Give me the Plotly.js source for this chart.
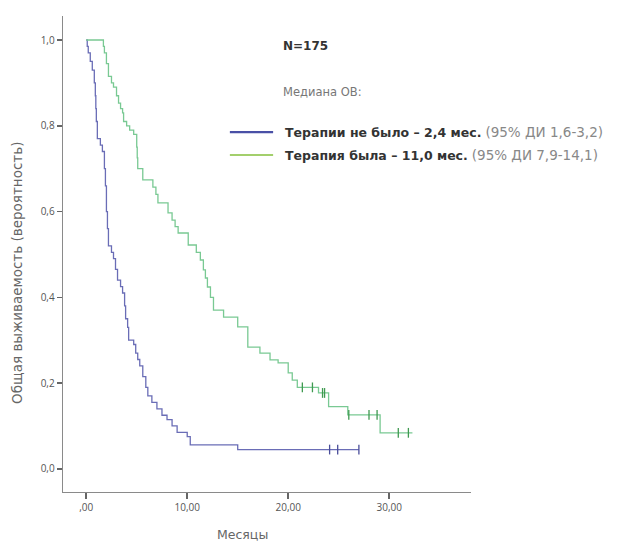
<!DOCTYPE html>
<html>
<head>
<meta charset="utf-8">
<script src="https://cdn.plot.ly/plotly-3.0.1.min.js"></script>
<style>html,body{margin:0;padding:0;background:#fff;}#chart{width:620px;height:542px;}</style>
</head>
<body>
<div id="chart"></div>
<script>
// ---- data (Kaplan–Meier, months vs survival probability) ----
const noTherapyMonths = [0, 0.1, 0.2, 0.4, 0.6, 0.8, 0.9, 0.95, 1.0, 1.1, 1.4, 1.6, 1.8, 1.9, 2.0, 2.1, 2.2, 2.5, 2.7, 2.9, 3.1, 3.4, 3.6, 3.8, 3.9, 4.1, 4.2, 4.7, 4.9, 5.1, 5.3, 5.6, 5.9, 6.1, 6.5, 7.0, 7.5, 8.0, 8.5, 9.0, 10.0, 10.3, 15.0, 27.0];
const noTherapySurv   = [1.0, 0.985, 0.97, 0.95, 0.93, 0.90, 0.87, 0.84, 0.81, 0.77, 0.755, 0.74, 0.70, 0.66, 0.60, 0.56, 0.52, 0.505, 0.49, 0.465, 0.44, 0.425, 0.41, 0.38, 0.35, 0.33, 0.30, 0.29, 0.27, 0.255, 0.24, 0.215, 0.19, 0.17, 0.155, 0.14, 0.125, 0.115, 0.10, 0.085, 0.075, 0.056, 0.045, 0.045];
const noTherapyCensMonths = [24.1, 24.9, 27.0];
const noTherapyCensSurv   = [0.045, 0.045, 0.045];

const therapyMonths = [0, 1.7, 1.8, 2.0, 2.2, 2.5, 2.7, 3.0, 3.2, 3.4, 3.6, 3.7, 4.0, 4.3, 4.7, 5.0, 5.05, 5.1, 5.6, 6.6, 6.9, 7.1, 8.1, 8.5, 8.8, 9.1, 10.1, 10.9, 11.3, 11.6, 11.8, 12.0, 12.3, 12.6, 13.6, 15.0, 16.0, 17.2, 18.2, 19.0, 20.0, 20.4, 20.9, 23.0, 24.0, 25.9, 29.1, 32.3];
const therapySurv   = [1.0, 0.985, 0.97, 0.945, 0.915, 0.90, 0.89, 0.87, 0.853, 0.84, 0.83, 0.81, 0.80, 0.79, 0.78, 0.75, 0.725, 0.70, 0.674, 0.657, 0.64, 0.62, 0.597, 0.58, 0.565, 0.55, 0.522, 0.505, 0.487, 0.464, 0.445, 0.424, 0.40, 0.37, 0.354, 0.331, 0.284, 0.27, 0.254, 0.247, 0.224, 0.207, 0.19, 0.177, 0.145, 0.126, 0.084, 0.084];
const therapyCensMonths = [21.4, 22.4, 23.4, 23.6, 26.0, 28.0, 28.8, 30.9, 31.9];
const therapyCensSurv   = [0.19, 0.19, 0.177, 0.177, 0.126, 0.126, 0.126, 0.084, 0.084];

const yTickVals   = [0, 0.2, 0.4, 0.6, 0.8, 1.0];
const yTickLabels = ["0,0", "0,2", "0,4", "0,6", "0,8", "1,0"];
const xTickVals   = [0, 10, 20, 30];
const xTickLabels = [",00", "10,00", "20,00", "30,00"];

const seriesNames = ["Терапии не было", "Терапия была"];
const legendBold  = ["Терапии не было – 2,4 мес.", "Терапия была – 11,0 мес."];
const legendCI    = ["(95% ДИ 1,6-3,2)", "(95% ДИ 7,9-14,1)"];

const blue = "#6a6db6", green = "#79c993";
const blueLeg = "#4a50a6", greenLeg = "#a3cf6c";
const FONT = "Open Sans, sans-serif";
const WIDE = "DejaVu Sans, sans-serif";

const traces = [
  {x: noTherapyMonths, y: noTherapySurv, mode: "lines", line: {shape: "hv", color: blue, width: 1.3}, name: seriesNames[0], hoverinfo: "skip"},
  {x: therapyMonths, y: therapySurv, mode: "lines", line: {shape: "hv", color: green, width: 1.3}, name: seriesNames[1], hoverinfo: "skip"},
  {x: noTherapyCensMonths, y: noTherapyCensSurv, mode: "markers", marker: {symbol: "line-ns-open", size: 7, color: "#4a4e9a", line: {color: "#4a4e9a", width: 1.3}}, showlegend: false, hoverinfo: "skip"},
  {x: therapyCensMonths, y: therapyCensSurv, mode: "markers", marker: {symbol: "line-ns-open", size: 7, color: "#3f9a50", line: {color: "#3f9a50", width: 1.3}}, showlegend: false, hoverinfo: "skip"}
];

const layout = {
  width: 620, height: 542,
  margin: {l: 63, r: 149, t: 16, b: 50},
  paper_bgcolor: "#fff", plot_bgcolor: "#fff",
  showlegend: false,
  font: {family: FONT, color: "#555"},
  xaxis: {
    range: [-2.3, 38.1], showgrid: false, zeroline: false,
    showline: true, linecolor: "#8a8a8a", linewidth: 1.3,
    ticks: "outside", ticklen: 6, tickwidth: 1.5, tickcolor: "#666",
    tickvals: xTickVals, ticktext: xTickLabels,
    tickfont: {family: FONT, size: 10, color: "#555"}
  },
  yaxis: {
    range: [-0.054, 1.056], showgrid: false, zeroline: false,
    showline: true, linecolor: "#8a8a8a", linewidth: 1.3,
    ticks: "outside", ticklen: 5, tickwidth: 1.5, tickcolor: "#666",
    tickvals: yTickVals, ticktext: yTickLabels,
    tickfont: {family: FONT, size: 10, color: "#555"}
  },
  shapes: [
    {type: "line", xref: "paper", yref: "paper", x0: 0.409, x1: 0.515, y0: 0.756, y1: 0.756, line: {color: blueLeg, width: 2.2}},
    {type: "line", xref: "paper", yref: "paper", x0: 0.409, x1: 0.515, y0: 0.708, y1: 0.708, line: {color: greenLeg, width: 2.2}}
  ],
  annotations: [
    {xref: "paper", yref: "paper", x: 0.534, y: 0.937, xanchor: "left", yanchor: "middle", showarrow: false,
     text: "<b>N=175</b>", font: {family: WIDE, size: 12, color: "#333"}},
    {xref: "paper", yref: "paper", x: 0.534, y: 0.840, xanchor: "left", yanchor: "middle", showarrow: false,
     text: "Медиана ОВ:", font: {family: WIDE, size: 11.5, color: "#777"}},
    {xref: "paper", yref: "paper", x: 0.539, y: 0.756, xanchor: "left", yanchor: "middle", showarrow: false,
     text: "<b>" + legendBold[0] + "</b> <span style='color:#888;font-size:13.5px'>" + legendCI[0] + "</span>", font: {family: WIDE, size: 12.5, color: "#333"}},
    {xref: "paper", yref: "paper", x: 0.539, y: 0.708, xanchor: "left", yanchor: "middle", showarrow: false,
     text: "<b>" + legendBold[1] + "</b> <span style='color:#888;font-size:13.5px'>" + legendCI[1] + "</span>", font: {family: WIDE, size: 12.5, color: "#333"}},
    {xref: "paper", yref: "paper", x: -0.113, y: 0.460, xanchor: "center", yanchor: "middle", showarrow: false, textangle: -90,
     text: "Общая выживаемость (вероятность)", font: {family: WIDE, size: 13.5, color: "#666"}},
    {xref: "paper", yref: "paper", x: 0.441, y: -0.090, xanchor: "center", yanchor: "middle", showarrow: false,
     text: "Месяцы", font: {family: WIDE, size: 12.5, color: "#666"}}
  ]
};

Plotly.newPlot("chart", traces, layout, {displayModeBar: false, staticPlot: true});
</script>
</body>
</html>
